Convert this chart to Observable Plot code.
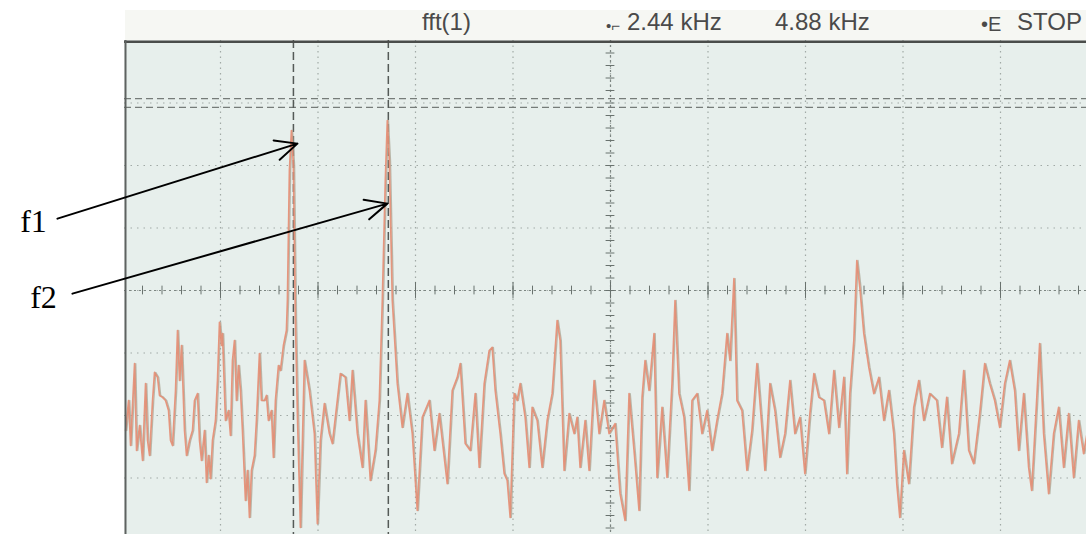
<!DOCTYPE html>
<html>
<head>
<meta charset="utf-8">
<script src="https://cdn.jsdelivr.net/npm/d3@7"></script>
<script src="https://cdn.jsdelivr.net/npm/@observablehq/plot@0.6"></script>
<style>
  html, body { margin: 0; padding: 0; background: #ffffff; }
  #wrap { width: 1086px; height: 534px; overflow: hidden; position: relative; }
  #hdr { position: relative; height: 40px; width: 1086px; }
  #hdr .band { position: absolute; left: 125px; top: 10px; right: 0; height: 30px; background: #f6f7f3; }
  #hdr span { position: absolute; top: 10px; font-family: "Liberation Sans", Arial, sans-serif; font-size: 24px; line-height: 24px; color: #4a4a4a; white-space: nowrap; }
  #chart svg { display: block; }
</style>
</head>
<body>
<div id="wrap">
  <div id="hdr">
    <div class="band"></div>
    <span style="left:422px">fft(1)</span>
    <span style="left:606px;font-size:15px;top:14px">•⌐</span>
    <span style="left:627px">2.44 kHz</span>
    <span style="left:775px">4.88 kHz</span>
    <span style="left:981px;font-size:20px;top:12px">•E</span>
    <span style="left:1017px">STOP</span>
  </div>
  <div id="chart"></div>
</div>
<script>
const freqHz = [
  13,28,38,58,68,83,98,113,123,133,
  148,158,173,183,198,213,228,238,248,263,
  273,283,293,308,318,333,348,358,373,383,
  393,408,418,428,438,448,463,473,483,493,
  498,513,528,538,548,558,568,578,588,598,
  613,623,633,643,658,668,683,693,708,718,
  728,743,753,763,778,788,803,818,
  823,833,843,853,863,873,888,908,933,958,
  973,988,1008,1033,1048,1088,1113,1133,1148,1173,
  1198,1213,1238,1263,1283,1298,1313,1323,1333,1348,
  1373,1398,1423,1448,1473,1498,1533,1558,1583,1623,
  1648,1673,1688,1713,1738,1763,1783,1808,1833,1848,
  1863,1888,1908,1923,1938,1958,1973,1988,2013,2033,
  2048,2073,2098,2123,2148,2173,2188,2208,2233,2258,
  2273,2288,2313,2333,2358,2383,2408,2433,2463,2488,
  2513,2533,2558,2583,2598,2613,2633,2658,2673,2698,
  2723,2748,2763,2783,2808,2833,2848,2873,2898,2923,
  2948,2973,2998,3023,3038,3058,3073,3098,3123,3148,
  3173,3198,3213,3238,3263,3288,3313,3338,3363,3388,
  3413,3438,3458,3483,3508,3533,3558,3583,3608,3623,
  3638,3658,3673,3688,3708,3733,3758,3783,3808,3833,
  3858,3873,3888,3908,3933,3958,3983,4008,4038,4073,
  4098,4123,4148,4183,4208,4233,4258,4288,4313,4338,
  4363,4388,4413,4438,4463,4483,4508,4533,4548,4573,
  4588,4608,4633,4658,4683,4708,4733,4758,4783,4808,
  4828
];
const levelDb = [
  -62.4,-57.6,-64.8,-51.7,-65.6,-61.6,-67.2,-54.9,-64.0,-66.4,
  -57.6,-53.1,-53.9,-56.8,-57.1,-57.6,-59.2,-64.0,-64.8,-56.0,
  -46.4,-54.4,-48.8,-62.4,-66.4,-64.0,-62.4,-57.6,-56.5,-64.0,
  -67.2,-62.4,-70.7,-66.4,-70.1,-64.0,-60.8,-54.4,-45.1,-48.8,
  -46.9,-60.8,-59.2,-63.2,-51.2,-48.0,-57.6,-52.0,-56.0,-62.4,
  -73.6,-68.8,-76.3,-68.8,-66.4,-60.8,-50.1,-57.6,-57.6,-56.8,
  -60.8,-59.2,-66.7,-57.6,-52.0,-52.8,-48.8,-46.4,
  -41.6,-20.8,-14.4,-20.0,-44.8,-59.7,-77.9,-51.2,-56.0,-62.9,
  -77.3,-64.0,-58.1,-62.9,-64.5,-53.3,-53.9,-60.8,-52.8,-62.9,
  -68.3,-57.6,-70.4,-65.6,-57.6,-41.6,-22.4,-12.8,-19.2,-41.6,
  -54.9,-61.9,-56.5,-62.9,-75.2,-60.3,-57.6,-65.6,-59.7,-70.9,
  -56.0,-53.9,-51.7,-64.5,-65.6,-56.5,-68.3,-54.9,-49.6,-49.1,
  -56.0,-62.9,-69.3,-70.4,-76.3,-56.5,-57.6,-54.9,-60.3,-68.3,
  -58.7,-60.8,-68.3,-60.8,-56.5,-44.8,-48.0,-68.8,-59.7,-62.9,
  -60.3,-68.3,-60.8,-68.8,-54.4,-62.9,-57.6,-62.9,-61.3,-72.5,
  -76.8,-56.5,-65.6,-75.2,-57.1,-51.2,-56.0,-46.9,-69.9,-58.7,
  -69.9,-54.9,-41.6,-56.5,-60.3,-72.0,-57.6,-56.5,-62.9,-59.2,
  -65.6,-60.8,-56.5,-46.9,-51.2,-38.1,-57.6,-59.2,-68.8,-62.4,
  -51.7,-61.9,-68.8,-54.9,-59.2,-66.7,-62.9,-54.4,-62.9,-60.3,
  -69.3,-59.7,-53.3,-57.1,-57.6,-62.9,-52.8,-61.9,-53.9,-69.3,
  -56.5,-48.0,-35.2,-39.5,-46.9,-52.3,-56.5,-53.9,-60.8,-56.0,
  -62.9,-70.9,-76.3,-65.6,-70.9,-58.7,-54.4,-60.8,-56.5,-57.6,
  -65.1,-57.1,-67.7,-62.9,-52.8,-65.6,-67.7,-59.7,-51.7,-54.9,
  -57.6,-61.9,-54.9,-51.2,-56.0,-65.6,-56.5,-68.3,-72.0,-57.6,
  -48.5,-62.9,-72.5,-62.9,-58.7,-68.3,-59.7,-69.9,-60.8,-66.1,
  -62.4
];

// Graticule (tick positions)
const xGridHz = [488, 976, 1464, 1952, 2440, 2928, 3416, 3904, 4392];
const yGridDb = [-10, -20, -30, -40, -50, -60, -70];
const centerHz = 2440;
const centerDb = -40;

// Cursors
const cursorHz = [853, 1328];
const cursorDb = [-9.3, -10.7];

// Annotations
const labelText = ["f1", "f2"];
const labelHz = [-448, -398];
const labelDb = [-29.0, -41.1];
const arrowFromHz = [-328, -253];
const arrowFromDb = [-28.5, -40.5];
const arrowToHz = [873, 1323];
const arrowToDb = [-16.5, -26.1];

const trace = freqHz.map((f, i) => ({f, db: levelDb[i]}));
const labels = labelText.map((t, i) => ({t, f: labelHz[i], db: labelDb[i]}));
const arrows = labelText.map((t, i) => ({x1: arrowFromHz[i], y1: arrowFromDb[i], x2: arrowToHz[i], y2: arrowToDb[i]}));

const minorHz = d3.range(1, 50).map(k => k * 97.6).filter(v => v < 4880);
const minorDb = d3.range(1, 40).map(k => -k * 2);

const chart = Plot.plot({
  width: 1086,
  height: 494,
  marginLeft: 124,
  marginRight: 0,
  marginTop: 0,
  marginBottom: 0,
  style: {background: "transparent"},
  x: {domain: [0, 4880], range: [122.5, 1097.5], axis: null},
  y: {domain: [-80, 0], range: [500, 0], axis: null},
  marks: [
    Plot.frame({fill: "#e7efec", stroke: "none"}),
    Plot.ruleX(xGridHz, {stroke: "#a1aaa6", strokeWidth: 1.2, strokeDasharray: "1.5,4"}),
    Plot.ruleY(yGridDb, {stroke: "#a1aaa6", strokeWidth: 1.2, strokeDasharray: "1.5,5"}),
    Plot.ruleX([centerHz], {stroke: "#7d8682", strokeWidth: 1.2, strokeDasharray: "2,3"}),
    Plot.ruleY([centerDb], {stroke: "#7d8682", strokeWidth: 1.2, strokeDasharray: "2,3"}),
    Plot.ruleX(minorHz, {y1: centerDb - 0.7, y2: centerDb + 0.7, stroke: "#69726e", strokeWidth: 1}),
    Plot.ruleX(xGridHz, {y1: centerDb - 1.3, y2: centerDb + 1.3, stroke: "#69726e", strokeWidth: 1}),
    Plot.ruleY(minorDb, {x1: centerHz - 22, x2: centerHz + 22, stroke: "#69726e", strokeWidth: 1}),
    Plot.ruleY(cursorDb, {stroke: "#767c79", strokeWidth: 1.3, strokeDasharray: "7,4"}),
    Plot.ruleX(cursorHz, {stroke: "#545a57", strokeWidth: 1.5, strokeDasharray: "8,4"}),
    Plot.line(trace, {x: "f", y: "db", stroke: "#aaa493", strokeWidth: 1.3, dx: 1.2, strokeOpacity: 0.75}),
    Plot.line(trace, {x: "f", y: "db", stroke: "#e48c72", strokeWidth: 1.7, strokeOpacity: 0.9}),
    Plot.ruleY([0], {stroke: "#4a4d4b", strokeWidth: 2.5, dy: 1.2}),
    Plot.ruleX([0], {stroke: "#5e6260", strokeWidth: 2, dx: 2.5}),
    Plot.arrow(arrows, {x1: "x1", y1: "y1", x2: "x2", y2: "y2", stroke: "#000", strokeWidth: 2, headLength: 18, headAngle: 50}),
    Plot.text(labels, {x: "f", y: "db", text: "t", fontSize: 32, fontFamily: "'Liberation Serif', 'Times New Roman', serif", fill: "#000"})
  ]
});
document.getElementById("chart").appendChild(chart);
</script>
</body>
</html>
